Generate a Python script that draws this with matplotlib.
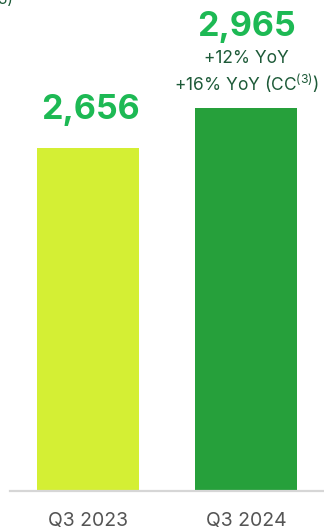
import matplotlib
matplotlib.use("Agg")
import matplotlib.pyplot as plt

categories = ["Q3 2023", "Q3 2024"]
values = [2656, 2965]
value_labels = ["2,656", "2,965"]
bar_colors = ["#D4EF34", "#26A03B"]
growth_lines = ["+12% YoY", "+16% YoY (CC$^{(3)}$)"]

plt.rcParams['font.family'] = ['Inter', 'DejaVu Sans']
plt.rcParams['mathtext.fontset'] = 'custom'
plt.rcParams['mathtext.rm'] = 'Inter'

W, H = 324, 531
fig = plt.figure(figsize=(W / 100, H / 100), dpi=100)
ax_left, ax_right = 10, 324
ax_bottom = 491
ax = fig.add_axes([ax_left / W, (H - ax_bottom) / H, (ax_right - ax_left) / W, ax_bottom / H])

px_per_unit = 343 / 2656
ax.set_ylim(0, ax_bottom / px_per_unit)
ax.set_xlim(-0.494, 1.494)

x = list(range(len(categories)))
ax.bar(x, values, width=0.646, color=bar_colors, zorder=2)

for s in ["top", "right", "left"]:
    ax.spines[s].set_visible(False)
ax.spines["bottom"].set_color("#D6D6D6")
ax.spines["bottom"].set_linewidth(1.6)
ax.set_yticks([])
ax.set_xticks(x)
ax.set_xticklabels(categories, fontsize=14, color="#555555")
ax.tick_params(axis="x", length=0, pad=15)

green = "#1DB954"
# value labels
ax.annotate(value_labels[0], (0, values[0]), xytext=(2, 22), textcoords="offset pixels",
            ha="center", va="bottom", fontsize=24.5, fontweight="bold", color=green)
ax.annotate(value_labels[1], (1, values[1]), xytext=(0, 65), textcoords="offset pixels",
            ha="center", va="bottom", fontsize=24.5, fontweight="bold", color=green)
ax.annotate(growth_lines[0], (1, values[1]), xytext=(0, 41), textcoords="offset pixels",
            ha="center", va="bottom", fontsize=12.5, color="#1D5A38")
ax.annotate(growth_lines[1], (1, values[1]), xytext=(1, 13), textcoords="offset pixels",
            ha="center", va="bottom", fontsize=12.5, color="#1D5A38")

# cut-off fragment at top-left
fig.text(-0.005, 1.0, "3)", fontsize=11, color="#1D5A38", ha="left", va="center")

fig.savefig("out.png", dpi=100)
